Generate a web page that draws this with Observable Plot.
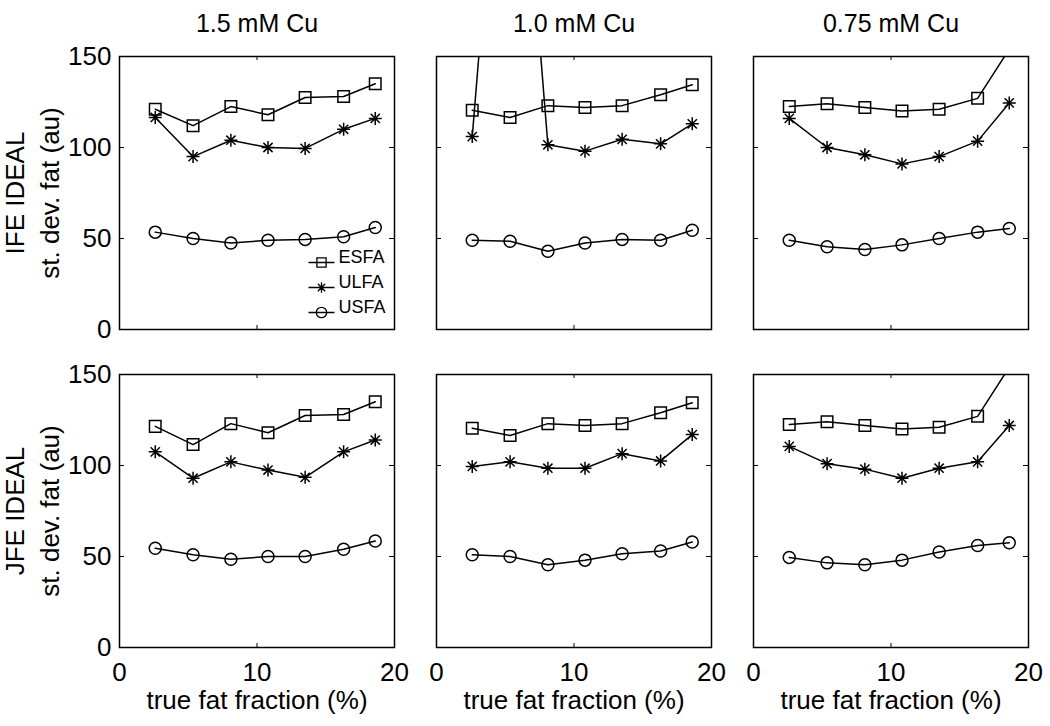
<!DOCTYPE html>
<html>
<head>
<meta charset="utf-8">
<script src="https://cdn.jsdelivr.net/npm/d3@7"></script>
<script src="https://cdn.jsdelivr.net/npm/@observablehq/plot@0.6"></script>
<style>
  html, body { margin: 0; padding: 0; background: #fff; }
  #chart { width: 1050px; height: 726px; }
  #chart svg { display: block; }
</style>
</head>
<body>
<div id="chart"></div>
<script>
// ---------- data ----------
const concentrations = ["1.5 mM Cu", "1.0 mM Cu", "0.75 mM Cu"];
const methods = ["IFE IDEAL", "JFE IDEAL"];
const seriesNames = ["ESFA", "ULFA", "USFA"];
const fatFraction = [2.6, 5.35, 8.1, 10.8, 13.5, 16.3, 18.6];
const xTicks = [0, 10, 20];
const yTicks = [0, 50, 100, 150];
const yAxisTitle = "st. dev. fat (au)";
const xAxisTitle = "true fat fraction (%)";

// IFE IDEAL
const ife15_ESFA = [121, 112, 122.5, 118, 127.5, 128, 135];
const ife15_ULFA = [116.5, 95, 104, 100, 99.5, 110, 116];
const ife15_USFA = [53.5, 50, 47.5, 49, 49.5, 51, 56];
const ife10_ESFA = [120.5, 116.5, 123, 122, 123, 129, 134.5];
const ife10_ULFA = [106, 360, 101.5, 98, 104.5, 102, 113];
const ife10_USFA = [49, 48.5, 43, 47.5, 49.5, 49, 54.5];
const ife075_ESFA = [122.5, 124, 122, 120, 121, 127, 154];
const ife075_ULFA = [116, 100, 96, 91, 95, 103.5, 124.5];
const ife075_USFA = [49, 45.5, 44, 46.5, 50, 53.5, 55.5];
// JFE IDEAL
const jfe15_ESFA = [121.5, 111.5, 123, 118, 127.5, 128, 135];
const jfe15_ULFA = [107.5, 93, 102, 97.5, 93.5, 107.5, 114];
const jfe15_USFA = [54.5, 51, 48.5, 50, 50, 54, 58.5];
const jfe10_ESFA = [120.5, 116.5, 123, 122, 123, 129, 134.5];
const jfe10_ULFA = [99.5, 102, 98.5, 98.5, 106.5, 102.5, 117];
const jfe10_USFA = [51, 50, 45.5, 48, 51.5, 53, 58];
const jfe075_ESFA = [122.5, 124, 122, 120, 121, 127, 154];
const jfe075_ULFA = [110.5, 101, 98, 93, 98.5, 102, 122];
const jfe075_USFA = [49.5, 46.5, 45.5, 48, 52.5, 56, 57.5];

const panelSeries = [
  [methods[0], concentrations[0], [ife15_ESFA, ife15_ULFA, ife15_USFA]],
  [methods[0], concentrations[1], [ife10_ESFA, ife10_ULFA, ife10_USFA]],
  [methods[0], concentrations[2], [ife075_ESFA, ife075_ULFA, ife075_USFA]],
  [methods[1], concentrations[0], [jfe15_ESFA, jfe15_ULFA, jfe15_USFA]],
  [methods[1], concentrations[1], [jfe10_ESFA, jfe10_ULFA, jfe10_USFA]],
  [methods[1], concentrations[2], [jfe075_ESFA, jfe075_ULFA, jfe075_USFA]]
];

// ---------- table ----------
const rows = [];
for (const [method, conc, arrays] of panelSeries) {
  arrays.forEach((vals, s) => {
    vals.forEach((v, i) => rows.push({fy: method, fx: conc, series: seriesNames[s], x: fatFraction[i], y: v}));
  });
}

// ---------- symbols ----------
const asterisk = {
  draw(ctx, size) {
    const r = Math.sqrt(size / Math.PI);
    const d = r * Math.SQRT1_2;
    ctx.moveTo(0, -r); ctx.lineTo(0, r);
    ctx.moveTo(-r, 0); ctx.lineTo(r, 0);
    ctx.moveTo(-d, -d); ctx.lineTo(d, d);
    ctx.moveTo(-d, d); ctx.lineTo(d, -d);
  }
};
const baseSymbols = {ESFA: d3.symbolSquare, ULFA: asterisk, USFA: d3.symbolCircle};
const markerR = {ESFA: 6.5, ULFA: 6.5, USFA: 6};
const withLine = (base, half) => ({
  draw(ctx, size) { ctx.moveTo(-half, 0); ctx.lineTo(half, 0); base.draw(ctx, size); }
});

const font = "'Liberation Sans', Arial, Helvetica, sans-serif";

// ---------- marks ----------
const marks = [];
marks.push(Plot.frame({stroke: "black", strokeWidth: 1.5}));
// inner tick marks (MATLAB style)
marks.push(Plot.ruleY(yTicks, {y: d => d, insetRight: 270, stroke: "black", strokeWidth: 1}));
marks.push(Plot.ruleY(yTicks, {y: d => d, insetLeft: 270, stroke: "black", strokeWidth: 1}));
marks.push(Plot.ruleX(xTicks, {x: d => d, insetBottom: 269, stroke: "black", strokeWidth: 1}));
marks.push(Plot.ruleX(xTicks, {x: d => d, insetTop: 269, stroke: "black", strokeWidth: 1}));

marks.push(Plot.line(rows, {x: "x", y: "y", z: "series", fx: "fx", fy: "fy", stroke: "black", strokeWidth: 1.5, clip: true}));
for (const s of seriesNames) {
  marks.push(Plot.dot(rows.filter(d => d.series === s), {
    x: "x", y: "y", fx: "fx", fy: "fy", symbol: baseSymbols[s], r: markerR[s],
    fill: "none", stroke: "black", strokeWidth: 1.5, clip: true
  }));
}

// legend (first panel)
const legendDy = [-67, -42, -17];
seriesNames.forEach((s, i) => {
  const cell = [{fx: concentrations[0], fy: methods[0], name: s}];
  marks.push(Plot.dot(cell, {fx: "fx", fy: "fy", frameAnchor: "bottom-right", dx: -73, dy: legendDy[i],
    symbol: withLine(baseSymbols[s], 13), r: 5.2, fill: "none", stroke: "black", strokeWidth: 1.3}));
  marks.push(Plot.text(cell, {fx: "fx", fy: "fy", frameAnchor: "bottom-right", dx: -56, dy: legendDy[i],
    text: "name", textAnchor: "start", fontSize: 18, fill: "black"}));
});

// axes
marks.push(Plot.axisY({anchor: "left", ticks: yTicks, tickSize: 0, tickPadding: 8, fontSize: 26, label: null, fill: "black"}));
marks.push(Plot.axisX({anchor: "bottom", ticks: xTicks, tickSize: 0, tickPadding: 15, fontSize: 26, label: null, fill: "black"}));
marks.push(Plot.axisFx({anchor: "top", tickSize: 0, tickPadding: 25, fontSize: 25, label: null, fill: "black"}));

// row titles (y axis labels)
const yLabelRows = methods.map(m => ({fx: concentrations[0], fy: m, label: m + "\n" + yAxisTitle}));
marks.push(Plot.text(yLabelRows, {fx: "fx", fy: "fy", text: "label", frameAnchor: "left", rotate: -90,
  dx: -89, lineAnchor: "middle", textAnchor: "middle", lineHeight: 1.35, fontSize: 26, fill: "black"}));

// x axis titles (bottom row)
const xLabelRows = concentrations.map(c => ({fx: c, fy: methods[1], label: xAxisTitle}));
marks.push(Plot.text(xLabelRows, {fx: "fx", fy: "fy", text: "label", frameAnchor: "bottom",
  dy: 43, lineAnchor: "top", fontSize: 26, fill: "black"}));

const plot = Plot.plot({
  width: 1050,
  height: 726,
  marginLeft: 118,
  marginRight: 22,
  marginTop: 55,
  marginBottom: 78,
  style: {fontFamily: font, background: "white", color: "black", overflow: "visible"},
  x: {domain: [0, 20]},
  y: {domain: [0, 150]},
  fx: {domain: concentrations, padding: 0.134, label: null},
  fy: {domain: methods, padding: 0.141, axis: null, label: null},
  marks
});
document.getElementById("chart").appendChild(plot);
</script>
</body>
</html>
